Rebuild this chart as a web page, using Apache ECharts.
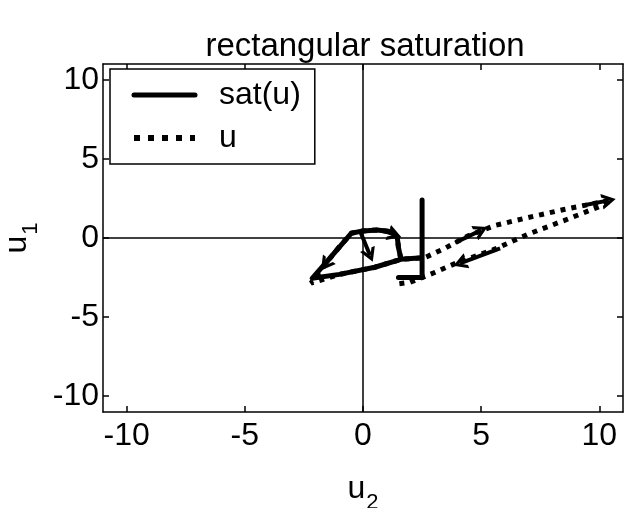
<!DOCTYPE html>
<html>
<head>
<meta charset="utf-8">
<script src="https://cdn.jsdelivr.net/npm/echarts@6/dist/echarts.min.js"></script>
<style>
  html, body { margin: 0; padding: 0; background: #fff; }
  #chart { width: 624px; height: 508px; }
</style>
</head>
<body>
<div id="chart"></div>
<script>
// Input trajectory u = [u2, u1] and its rectangular saturation sat(u)
const uPath = [
  [1.6, -1.3], [1.5, -0.6], [1.45, 0.05], [1.2, 0.4], [0.6, 0.5], [0.0, 0.45], [-0.5, 0.3],
  [-1.3, -1.1], [-2.2, -2.85], [-1.0, -2.3], [0.5, -1.85], [1.6, -1.35],
  [2.6, -1.25], [3.4, -0.7], [4.4, 0.1], [5.6, 0.8], [7.0, 1.3], [8.5, 1.8], [10.5, 2.4],
  [10.2, 2.1], [8.5, 1.1], [7.0, 0.25], [5.5, -0.75], [4.0, -1.55], [3.0, -2.2],
  [2.0, -2.8], [1.5, -2.9]
];
const satPath = [
  [1.6, -1.3], [1.5, -0.6], [1.45, 0.05], [1.2, 0.4], [0.6, 0.5], [0.0, 0.45], [-0.5, 0.3],
  [-1.3, -1.1], [-2.15, -2.55], [-1.0, -2.3], [0.5, -1.85], [1.6, -1.35],
  [2.5, -1.25], [2.5, -0.7], [2.5, 0.1], [2.5, 0.8], [2.5, 1.3], [2.5, 1.8], [2.5, 2.4],
  [2.5, 2.1], [2.5, 1.1], [2.5, 0.25], [2.5, -0.75], [2.5, -1.55], [2.5, -2.2],
  [2.5, -2.5], [2.0, -2.5], [1.5, -2.5]
];
// Direction arrows: [fromU2, fromU1, toU2, toU1]
const arrows = [
  [9.3, 2.05, 10.4, 2.38],
  [5.8, -0.65, 4.1, -1.6],
  [3.9, -0.3, 5.0, 0.5],
  [-1.0, -0.5, -1.6, -1.7],
  [0.8, 0.5, 1.35, 0.2],
  [-0.1, 0.35, 0.3, -1.1]
];
const ticks = [-10, -5, 0, 5, 10];
const axisMin = -11, axisMax = 11;

const FONT = 'Liberation Sans, Arial, sans-serif';
// open arrowhead (chevron) pointing along the line
const CHEVRON = 'path://M0,20 L10,0 L20,20 L15.5,20 L10,9 L4.5,20 Z';

function boxAxis(pos, showLabels, extra) {
  return Object.assign({
    type: 'value',
    position: pos,
    min: axisMin,
    max: axisMax,
    splitLine: { show: false },
    axisLine: { show: true, onZero: false, lineStyle: { color: '#000', width: 1.5 } },
    axisTick: { show: true, inside: true, length: 6, customValues: ticks, lineStyle: { color: '#000', width: 1.5 } },
    axisLabel: showLabels ? {
      show: true, customValues: ticks, color: '#000', fontSize: 32, fontFamily: FONT,
      margin: pos === 'left' ? 4 : 8
    } : { show: false }
  }, extra || {});
}

const arrowLines = arrows.map(a => [{ coord: [a[0], a[1]] }, { coord: [a[2], a[3]] }]);

const subRich = {
  b: { fontSize: 32, color: '#000', fontFamily: FONT },
  s: { fontSize: 22, color: '#000', fontFamily: FONT, padding: [28, 0, 0, 1] }
};

const chart = echarts.init(document.getElementById('chart'), null, { renderer: 'canvas' });
chart.setOption({
  animation: false,
  backgroundColor: '#fff',
  title: {
    text: 'rectangular saturation',
    left: 360, top: 25, textAlign: 'center',
    textStyle: { fontSize: 33, fontWeight: 'normal', color: '#000', fontFamily: FONT }
  },
  grid: { left: 103, right: 1, top: 64, bottom: 96, containLabel: false, outerBoundsMode: 'none' },
  legend: {
    left: 110, top: 69,
    orient: 'vertical',
    backgroundColor: '#fff',
    borderColor: '#000', borderWidth: 1.5,
    padding: [6, 14, 6, 21],
    itemWidth: 61, itemHeight: 14, itemGap: 3,
    itemStyle: { color: 'transparent', borderColor: 'transparent', borderWidth: 0 },
    lineStyle: { width: 5 },
    textStyle: { fontSize: 32, lineHeight: 40, color: '#000', fontFamily: FONT, padding: [0, 0, 0, 19] },
    data: ['sat(u)', { name: 'u', lineStyle: { width: 6, type: [6, 8] } }]
  },
  xAxis: [
    boxAxis('bottom', true, {
      name: '{b|u}{s|2}', nameLocation: 'middle', nameGap: 52,
      nameTextStyle: { color: '#000', fontFamily: FONT, rich: subRich }
    }),
    boxAxis('top', false)
  ],
  yAxis: [
    boxAxis('left', true, {
      name: '{b|u}{s|1}', nameLocation: 'middle', nameGap: 58, nameRotate: 90,
      nameTextStyle: { color: '#000', fontFamily: FONT, rich: subRich }
    }),
    boxAxis('right', false)
  ],
  series: [
    {
      name: 'u', type: 'line', data: uPath, showSymbol: false, symbol: 'none',
      xAxisIndex: 0, yAxisIndex: 0, z: 2,
      lineStyle: { color: '#000', width: 5, type: [5, 6], cap: 'butt' },
      itemStyle: { color: '#000' }
    },
    {
      name: 'sat(u)', type: 'line', data: satPath, showSymbol: false, symbol: 'none',
      xAxisIndex: 0, yAxisIndex: 0, z: 3,
      lineStyle: { color: '#000', width: 5, type: 'solid', join: 'round', cap: 'round' },
      itemStyle: { color: '#000' },
      markLine: {
        silent: true, symbol: ['none', 'none'], label: { show: false },
        lineStyle: { color: '#000', width: 1.5, type: 'solid' },
        data: [{ xAxis: 0 }, { yAxis: 0 }]
      }
    },
    {
      name: 'arrows', type: 'line', data: [], xAxisIndex: 0, yAxisIndex: 0, z: 4,
      markLine: {
        silent: true, symbol: ['none', CHEVRON], symbolSize: [16, 14], symbolOffset: [0, 0],
        label: { show: false },
        lineStyle: { color: '#000', width: 4, type: 'solid' },
        data: arrowLines
      }
    }
  ]
});
</script>
</body>
</html>
